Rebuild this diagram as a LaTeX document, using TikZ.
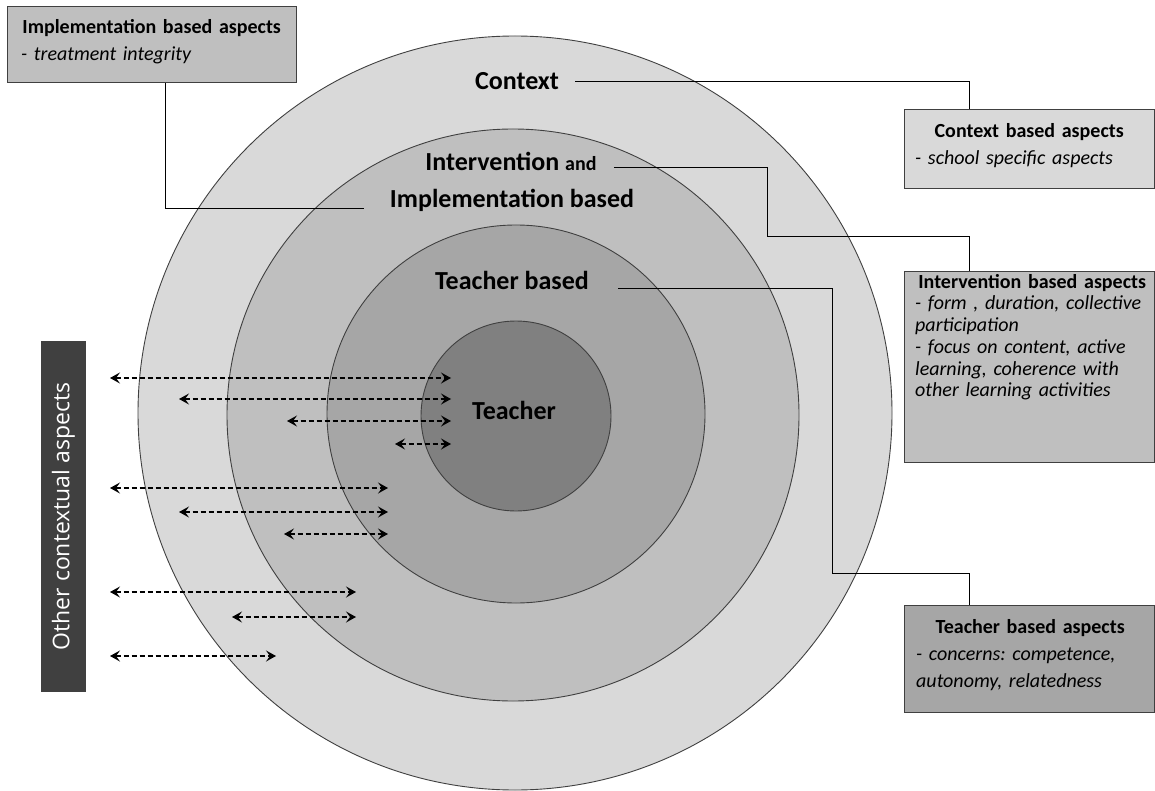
\documentclass[tikz,border=0pt]{standalone}
\usepackage{fontspec}
\setmainfont{Carlito}
\newfontfamily\sidefont{Open Sans}
\usetikzlibrary{arrows.meta,positioning}

\definecolor{ringA}{gray}{0.85}
\definecolor{ringB}{gray}{0.75}
\definecolor{ringC}{gray}{0.65}
\definecolor{ringD}{gray}{0.5}
\definecolor{edgegray}{gray}{0.25}

\tikzset{
	ring/.style = {circle, draw = edgegray, line width = 0.9pt, inner sep = 0pt},
	lbl/.style = {font = \fontsize{26}{30}\selectfont\bfseries, inner sep = 0pt, anchor = base},
	aspectbox/.style = {draw = edgegray, line width = 1.2pt, anchor = north west, inner sep = 0pt, minimum width = 250pt},
	aspecttext/.style = {anchor = north west, inner sep = 0pt, font = \fontsize{20}{27}\selectfont\frenchspacing},
	conn/.style = {line width = 0.9pt},
	twoway/.style = {line width = 1.2pt, dash pattern = on 5pt off 3pt, {Stealth[length = 10pt, width = 11pt, inset = 4pt]}-{Stealth[length = 10pt, width = 11pt, inset = 4pt]}}
}

\begin{document}
\begin{tikzpicture}[x = 1pt, y = 1pt]
	\useasboundingbox (0,0) rectangle (1155,-791);

	% rings
	\node[ring, fill = ringA, minimum size = 754pt] (ctxring) at (515,-413) {};
	\node[ring, fill = ringB, minimum size = 572pt] (intring) at (513,-415) {};
	\node[ring, fill = ringC, minimum size = 378pt] (tbring) at (516,-414) {};
	\node[ring, fill = ringD, minimum size = 190pt] (tring) at (516,-416) {};

	\node[lbl] (ctxlbl) at (517,-90) {Context};
	\node[lbl] (intlbl) at (511,-171) {Intervention {\fontsize{20}{22}\selectfont and}};
	\node[lbl] (impllbl) at (512,-208) {Implementation based};
	\node[lbl] (tblbl) at (512,-290) {Teacher based};
	\node[lbl] (tlbl) at (514,-419) {Teacher};

	% aspect boxes
	\node[aspectbox, fill = ringB, minimum width = 289pt, minimum height = 76pt] (implbox) at (7,-6) {};
	\node[aspecttext, text width = 261pt] (impltext) at (21,-19)
		{\centering\textbf{Implementation based aspects}\par\raggedright\itshape - treatment integrity\par};

	\node[aspectbox, fill = ringA, minimum height = 79pt] (ctxbox) at (904,-109) {};
	\node[aspecttext, text width = 228pt] (ctxtext) at (915,-123)
		{\centering\textbf{Context based aspects}\par\raggedright\itshape - school specific aspects\par};

	\node[aspectbox, fill = ringB, minimum height = 191pt] (intbox) at (904,-271) {};
	\node[aspecttext, text width = 234pt, font = \fontsize{20}{21.7}\selectfont\frenchspacing] (inttext) at (915,-274)
		{\centering\textbf{Intervention based aspects}\par\raggedright\itshape - form , duration, collective\newline participation\newline - focus on content, active\newline learning, coherence with\newline other learning activities\par};

	\node[aspectbox, fill = ringC, minimum height = 107pt] (tbbox) at (904,-605) {};
	\node[aspecttext, text width = 228pt] (tbtext) at (916,-619)
		{\centering\textbf{Teacher based aspects}\par\raggedright\itshape - concerns: competence,\newline autonomy, relatedness\par};

	\node[fill = black!75, text = white, rotate = 90, inner sep = 0pt, minimum width = 351pt, minimum height = 45pt,
		font = \sidefont\fontsize{23}{26}\selectfont] (sidebox) at (63.5,-516.5) {Other contextual aspects};

	% connectors
	\coordinate (ctxtop) at ([xshift = 65pt]ctxbox.north west);
	\coordinate (inttop) at ([xshift = 65pt]intbox.north west);
	\coordinate (tbtop) at ([xshift = 65pt]tbbox.north west);
	\coordinate (intbend) at (767,-236);
	\coordinate (tbbend) at (832,-573);

	\draw[conn] ([xshift = 16pt]ctxlbl.east) -| (ctxtop);
	\draw[conn] ([xshift = 17pt, yshift = 4pt]intlbl.base east) -| (intbend) -| (inttop);
	\draw[conn] ([xshift = 29pt, yshift = 2pt]tblbl.base east) -| (tbbend) -| (tbtop);
	\draw[conn] ([xshift = 158pt]implbox.south west) |- ([xshift = -26pt]impllbl.base west);

	% other contextual aspects
	\foreach \yy/\xl/\xr [count = \i] in {378/110/451, 399/179/451, 421/287/451, 444/395/451,
		488/110/388, 512/179/388, 534/284/388, 592/110/356, 617/232/356, 656/110/276}
	{
		\coordinate (l\i) at (\xl,-\yy);
		\coordinate (r\i) at (\xr,-\yy);
		\draw[twoway] (l\i) -- (r\i);
	}
\end{tikzpicture}
\end{document}
